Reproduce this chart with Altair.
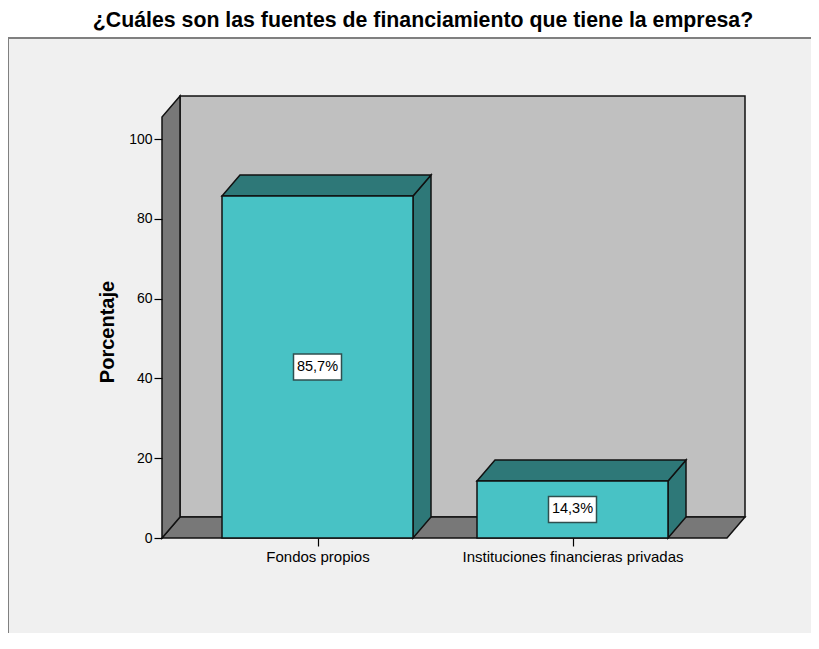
import json
import altair as alt
import pandas as pd

# ---------------- data ----------------
categories = ["Fondos propios", "Instituciones financieras privadas"]
percent = [85.7, 14.3]
value_labels = ["85,7%", "14,3%"]
y_ticks = [0, 20, 40, 60, 80, 100]
title_text = "¿Cuáles son las fuentes de financiamiento que tiene la empresa?"
y_title = "Porcentaje"

# ---------------- layout constants (pixels -> scale units) ----------------
W, H = 803, 595
PAD_TOP = 30
PX_PER_PCT = 3.99
STEP = 255.0
ZERO_Y = 500.0
CENTER0_X = 309.5
U_MIN = -CENTER0_X / STEP
U_MAX = (W - CENTER0_X) / STEP
V_MAX = ZERO_Y / PX_PER_PCT
V_MIN = -(H - ZERO_Y) / PX_PER_PCT
AX_L = (154 - CENTER0_X) / STEP
AX_R = (719 - CENTER0_X) / STEP
AX_TOP = 105.5
HALF = 95.5 / STEP
DX = 18 / STEP
DY = 21 / PX_PER_PCT

FRONT = "#48c2c5"
DARK = "#2e7878"
WALL = "#c0c0c0"
SIDE = "#787878"
EDGE = "#111111"
FONT = "Liberation Sans"

xscale = alt.Scale(domain=[U_MIN, U_MAX], nice=False, zero=False)
yscale = alt.Scale(domain=[V_MIN, V_MAX], nice=False, zero=False)

label_expr = json.dumps(categories).replace('"', "'") + "[round(datum.value)]"
xaxis = alt.Axis(values=list(range(len(categories))), labelExpr=label_expr, domain=False,
                 grid=False, tickSize=8, tickColor="black", tickWidth=1.2,
                 labelFont=FONT, labelFontSize=15, labelColor="black", labelPadding=3,
                 labelFlush=False, labelOverlap=False, labelLimit=0, title=None,
                 offset=-(H - ZERO_Y), zindex=1)
yaxis = alt.Axis(values=y_ticks, domain=False, grid=False, tickSize=8, tickColor="black",
                 tickWidth=1.2, labelFont=FONT, labelFontSize=14, labelColor="black",
                 labelPadding=2, title=y_title, titleFont=FONT, titleFontSize=20,
                 titleFontWeight="bold", titleColor="black", titleX=-49, titleY=293.5,
                 titleBaseline="alphabetic", titleAlign="center",
                 offset=-154, zindex=1)


def X(f="x"):
    return alt.X(f + ":Q", scale=xscale, axis=xaxis)


def Y(f="y"):
    return alt.Y(f + ":Q", scale=yscale, axis=yaxis)


# frame lines
frame_top = alt.Chart(pd.DataFrame({"x": [U_MIN], "x2": [U_MAX], "y": [V_MAX]})).mark_rule(
    color="#808080", strokeWidth=2).encode(x=X(), x2="x2:Q", y=Y())
frame_left = alt.Chart(pd.DataFrame({"x": [U_MIN], "y": [V_MIN], "y2": [V_MAX]})).mark_rule(
    color="#808080", strokeWidth=2).encode(x=X(), y=Y(), y2="y2:Q")

# back wall
back = alt.Chart(pd.DataFrame({"x": [AX_L + DX], "x2": [AX_R + DX], "y": [DY],
                               "y2": [AX_TOP + DY]})).mark_rect(
    fill=WALL, stroke=EDGE, strokeWidth=1.5).encode(x=X(), x2="x2:Q", y=Y(), y2="y2:Q")

# floor (horizontal parallelogram)
floor = alt.Chart(pd.DataFrame({"y": [0, DY], "x": [AX_L, AX_L + DX],
                                "x2": [AX_R, AX_R + DX]})).mark_area(
    orient="horizontal", fill=SIDE, stroke=EDGE, strokeWidth=1.5).encode(
    y=Y(), x=X(), x2="x2:Q")

# left wall (vertical parallelogram)
left_wall = alt.Chart(pd.DataFrame({"x": [AX_L, AX_L + DX], "y": [0, DY],
                                    "y2": [AX_TOP, AX_TOP + DY]})).mark_area(
    orient="vertical", fill=SIDE, stroke=EDGE, strokeWidth=1.5).encode(
    x=X(), y=Y(), y2="y2:Q")

# bars
front_rows, top_rows, side_rows, lab_rows = [], [], [], []
for i, (p, lab) in enumerate(zip(percent, value_labels)):
    front_rows.append({"bar": i, "x": i - HALF, "x2": i + HALF, "y": 0, "y2": p})
    top_rows.append({"bar": i, "y": p, "x": i - HALF, "x2": i + HALF})
    top_rows.append({"bar": i, "y": p + DY, "x": i - HALF + DX, "x2": i + HALF + DX})
    side_rows.append({"bar": i, "x": i + HALF, "y": 0, "y2": p})
    side_rows.append({"bar": i, "x": i + HALF + DX, "y": DY, "y2": p + DY})
    lab_rows.append({"bar": i, "x": i, "y": p / 2, "text": lab})

sides = alt.Chart(pd.DataFrame(side_rows)).mark_area(
    orient="vertical", fill=DARK, stroke=EDGE, strokeWidth=1.5).encode(
    x=X(), y=Y(), y2="y2:Q", detail="bar:N")
tops = alt.Chart(pd.DataFrame(top_rows)).mark_area(
    orient="horizontal", fill=DARK, stroke=EDGE, strokeWidth=1.5).encode(
    y=Y(), x=X(), x2="x2:Q", detail="bar:N")
fronts = alt.Chart(pd.DataFrame(front_rows)).mark_rect(
    fill=FRONT, stroke=EDGE, strokeWidth=1.5).encode(x=X(), x2="x2:Q", y=Y(), y2="y2:Q")

lab_df = pd.DataFrame(lab_rows)
boxes = alt.Chart(lab_df).mark_point(
    shape="M-1,-0.54L1,-0.54L1,0.54L-1,0.54Z", size=48 * 48, filled=True, fill="white",
    stroke="#2f4f4f", strokeWidth=1.5, opacity=1).encode(x=X(), y=Y())
texts = alt.Chart(lab_df).mark_text(
    font=FONT, fontSize=14.5, color="black", baseline="middle", align="center").encode(
    x=X(), y=Y(), text="text:N")

chart = alt.layer(back, floor, left_wall, sides, tops, fronts, boxes, texts,
                  frame_top, frame_left).properties(
    width=W, height=H,
    title=alt.TitleParams(text=title_text, font=FONT, fontSize=21.3, fontWeight="bold",
                          color="black", anchor="middle", frame="group", dx=13.5, offset=6),
    padding={"left": 0, "top": PAD_TOP, "right": 0, "bottom": 0},
    autosize=alt.AutoSizeParams(type="none"),
    background="white",
).configure_view(fill="#f0f0f0", stroke=None)

chart.save("out.html", embed_options={"renderer": "svg", "actions": False})
